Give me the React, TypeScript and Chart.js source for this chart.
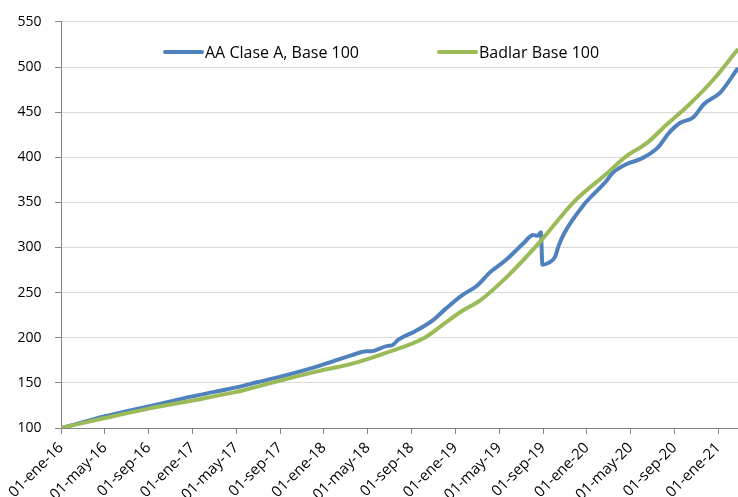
import React, { useEffect, useRef } from "react";
import { Chart, registerables } from "chart.js";

Chart.register(...registerables);

// month index (0 = 01-ene-16)
const aaMonths = [0, 2, 4, 6, 8, 10, 12, 14, 16, 18, 20.4, 23.5, 26.5, 27.9, 28.3, 29.8, 30.2, 30.8, 32.3, 33.9, 35.1, 36.6, 38, 39.2, 40.5, 42.2, 43.1, 43.5, 43.8, 43.95, 44.5, 45.1, 45.4, 45.9, 47.7, 49.8, 50.3, 51.7, 52.9, 54.5, 55.5, 56.5, 57.7, 58.7, 60.2, 61.8];
const aaValues = [100, 106.5, 113, 118.5, 124, 129.5, 135, 140, 145, 151, 158, 168.5, 180.5, 185, 185, 191, 191.5, 198, 207, 219, 232, 247, 258, 273, 285, 304.4, 314, 313, 317, 281, 283, 289.6, 301, 315, 347, 374, 382, 392.8, 398, 411, 427, 438, 444, 459, 472, 499];

const badlarMonths = [0, 4, 8, 12, 16, 17.5, 20.4, 23.5, 26.5, 29.6, 33.2, 35.1, 36.6, 38.3, 40.7, 43.7, 46.8, 49.8, 51.7, 52.9, 53.8, 55, 57.4, 59.6, 61.8];
const badlarValues = [100, 111, 121.5, 130.5, 140, 144.5, 153.7, 163, 171, 183, 200, 216.7, 229.6, 241.8, 267.5, 306, 350.4, 381.8, 402, 411, 419, 433, 459, 486.7, 520];

const tickMonths = [0, 4, 8, 12, 16, 20, 24, 28, 32, 36, 40, 44, 48, 52, 56, 60];
const tickLabels = [
  "01-ene-16", "01-may-16", "01-sep-16",
  "01-ene-17", "01-may-17", "01-sep-17",
  "01-ene-18", "01-may-18", "01-sep-18",
  "01-ene-19", "01-may-19", "01-sep-19",
  "01-ene-20", "01-may-20", "01-sep-20",
  "01-ene-21",
];

const seriesNames = ["AA Clase A, Base 100", "Badlar Base 100"];
const BLUE = "#4f81bd";
const GREEN = "#9bbb59";
const FONT = "'Open Sans', 'Noto Sans', sans-serif";

const legendPlugin = {
  id: "customLegend",
  afterDraw(chart: any) {
    const ctx = chart.ctx;
    const items = [
      { x: 165, color: BLUE, text: seriesNames[0] },
      { x: 439, color: GREEN, text: seriesNames[1] },
    ];
    const y = 52;
    ctx.save();
    ctx.font = `16px ${FONT}`;
    ctx.textBaseline = "middle";
    ctx.fillStyle = "#000";
    for (const it of items) {
      ctx.beginPath();
      ctx.strokeStyle = it.color;
      ctx.lineWidth = 4;
      ctx.lineCap = "round";
      ctx.moveTo(it.x, y);
      ctx.lineTo(it.x + 37, y);
      ctx.stroke();
      ctx.fillText(it.text, it.x + 40, y + 1);
    }
    ctx.restore();
  },
};

export default function App() {
  const ref = useRef<HTMLCanvasElement>(null);
  useEffect(() => {
    if (!ref.current) return;
    const chart = new Chart(ref.current, {
      type: "line",
      data: {
        datasets: [
          {
            label: seriesNames[0],
            data: aaMonths.map((m, i) => ({ x: m, y: aaValues[i] })),
            borderColor: BLUE,
            backgroundColor: BLUE,
            borderWidth: 4,
            pointRadius: 0,
            cubicInterpolationMode: "monotone",
            order: 1,
          },
          {
            label: seriesNames[1],
            data: badlarMonths.map((m, i) => ({ x: m, y: badlarValues[i] })),
            borderColor: GREEN,
            backgroundColor: GREEN,
            borderWidth: 4,
            pointRadius: 0,
            cubicInterpolationMode: "monotone",
            order: 0,
          },
        ],
      },
      options: {
        animation: false,
        responsive: false,
        devicePixelRatio: 1,
        layout: { padding: { top: 21, right: 0, left: 0, bottom: 0 } },
        plugins: { legend: { display: false }, tooltip: { enabled: false } },
        scales: {
          x: {
            type: "linear",
            min: 0,
            max: 61.8,
            afterBuildTicks: (scale: any) => {
              scale.ticks = tickMonths.map((v) => ({ value: v }));
            },
            afterFit: (scale: any) => {
              scale.height = 69;
            },
            ticks: {
              autoSkip: false,
              maxRotation: 45,
              minRotation: 45,
              color: "#000",
              font: { family: FONT, size: 15 },
              padding: 5,
              callback: (_v: any, i: number) => tickLabels[i],
            },
            grid: {
              drawOnChartArea: false,
              drawTicks: true,
              tickLength: 6,
              tickColor: "#868686",
            },
            border: { color: "#868686", width: 1 },
          },
          y: {
            min: 100,
            max: 550,
            afterFit: (scale: any) => {
              scale.width = 61;
            },
            ticks: {
              stepSize: 50,
              color: "#000",
              font: { family: FONT, size: 14 },
              padding: 13.5,
            },
            grid: {
              color: "#d9d9d9",
              lineWidth: 1,
              tickLength: 6,
              tickColor: "#868686",
            },
            border: { color: "#868686", width: 1 },
          },
        },
      },
      plugins: [legendPlugin],
    });
    return () => chart.destroy();
  }, []);
  return (
    <div style={{ position: "absolute", left: 0, top: 0, width: 738, height: 497, background: "#fff" }}>
      <canvas ref={ref} width={738} height={497} />
    </div>
  );
}
